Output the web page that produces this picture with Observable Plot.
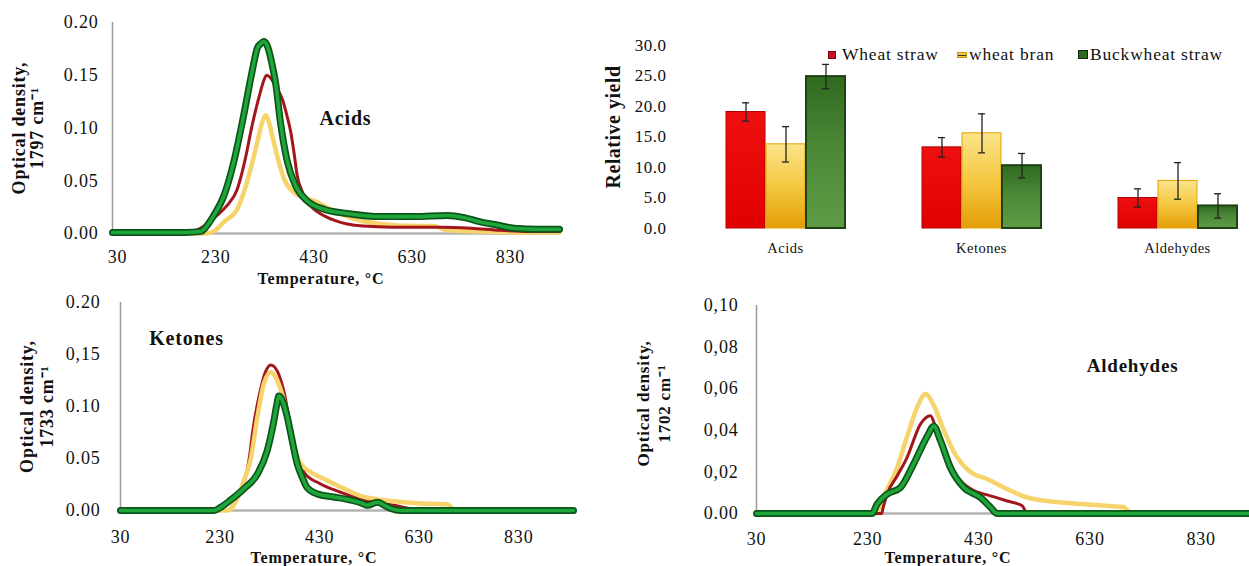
<!DOCTYPE html>
<html><head><meta charset="utf-8">
<script src="https://cdn.jsdelivr.net/npm/d3@7"></script>
<script src="https://cdn.jsdelivr.net/npm/@observablehq/plot@0.6"></script>
<style>
html,body{margin:0;padding:0;background:#fff;}
#root{position:relative;width:1249px;height:566px;overflow:hidden;font-family:"Liberation Serif","Times New Roman",serif;color:#111;}
.panel{position:absolute;}
.leg{position:absolute;font-size:17.5px;letter-spacing:0.8px;line-height:1;white-space:nowrap;top:46px;}
.sw{position:absolute;box-sizing:border-box;}
</style></head><body>
<div id="root">
  <div class="panel" id="p1" style="left:0;top:0"></div>
  <div class="panel" id="p2" style="left:590px;top:30px"></div>
  <div class="panel" id="p3" style="left:0;top:290px"></div>
  <div class="panel" id="p4" style="left:600px;top:290px"></div>
  <div id="legend"></div>
</div>
<script>
// ---------- data ----------
const temperatureTicks = [30, 230, 430, 630, 830];
const seriesNames = ["Wheat straw", "wheat bran", "Buckwheat straw"];
const groupNames = ["Acids", "Ketones", "Aldehydes"];

// relative yield (bar chart)
const yieldWheatStraw = [19.1, 13.3, 5.0];
const yieldWheatBran = [13.8, 15.6, 7.8];
const yieldBuckwheat = [24.9, 10.3, 3.7];
const errWheatStraw = [1.5, 1.6, 1.5];
const errWheatBran = [2.9, 3.2, 3.0];
const errBuckwheat = [2.0, 2.0, 2.0];
const yieldTicks = [0, 5, 10, 15, 20, 25, 30];

// Acids, 1797 cm-1  [temperature, optical density]
const acidsWheatStraw = [[30,0.001],[180,0.001],[200,0.003],[220,0.008],[240,0.016],[262,0.026],[284,0.042],[300,0.070],[314,0.102],[331,0.134],[338,0.145],[344,0.150],[351,0.148],[358,0.143],[367,0.136],[376,0.127],[385,0.112],[393,0.096],[400,0.075],[406,0.055],[416,0.040],[426,0.030],[443,0.022],[460,0.017],[485,0.012],[508,0.009],[540,0.007],[600,0.006],[700,0.006],[760,0.005],[820,0.003],[880,0.002],[940,0.002]];
const acidsWheatBran = [[30,0.000],[220,0.000],[236,0.002],[257,0.011],[284,0.023],[304,0.049],[325,0.087],[335,0.106],[342,0.112],[347,0.108],[352,0.099],[365,0.074],[379,0.052],[399,0.039],[420,0.034],[440,0.031],[474,0.023],[521,0.014],[576,0.009],[644,0.007],[684,0.007],[712,0.003],[780,0.002],[880,0.001],[940,0.001]];
const acidsBuckwheat = [[30,0.001],[100,0.001],[180,0.001],[210,0.002],[220,0.006],[236,0.017],[257,0.036],[277,0.068],[297,0.112],[314,0.153],[325,0.176],[332,0.180],[338,0.182],[343,0.180],[348,0.174],[355,0.160],[362,0.143],[372,0.105],[386,0.068],[403,0.045],[426,0.031],[460,0.023],[508,0.019],[576,0.016],[644,0.016],[712,0.017],[746,0.015],[779,0.011],[813,0.008],[847,0.005],[900,0.004],[940,0.004]];

// Ketones, 1733 cm-1
const ketonesWheatStraw = [[30,0],[245,0],[260,0.008],[275,0.022],[285,0.040],[291,0.058],[295,0.074],[308,0.109],[321,0.133],[332,0.140],[345,0.134],[358,0.115],[372,0.080],[385,0.052],[400,0.036],[430,0.026],[470,0.018],[520,0.010],[580,0.005],[620,0.001],[640,0],[940,0]];
const ketonesWheatBran = [[30,0],[245,0],[251,0.001],[265,0.012],[278,0.029],[291,0.048],[305,0.090],[318,0.122],[332,0.133],[345,0.125],[358,0.106],[372,0.074],[392,0.045],[412,0.037],[445,0.029],[479,0.021],[512,0.014],[559,0.010],[626,0.007],[687,0.006],[700,0.001],[720,0],[940,0]];
const ketonesBuckwheat = [[30,0],[200,0],[218,0],[231,0.003],[251,0.010],[278,0.021],[305,0.035],[325,0.058],[338,0.086],[344,0.102],[348,0.110],[353,0.108],[358,0.102],[365,0.090],[372,0.074],[385,0.045],[395,0.032],[405,0.022],[425,0.016],[459,0.013],[492,0.010],[515,0.007],[526,0.005],[546,0.008],[560,0.005],[573,0.002],[592,0],[940,0]];

// Aldehydes, 1702 cm-1
const aldehydesWheatStraw = [[30,0],[255,0],[258,0.003],[265,0.0093],[283,0.018],[301,0.027],[325,0.043],[343,0.047],[349,0.044],[355,0.038],[373,0.025],[397,0.0157],[421,0.011],[451,0.0085],[481,0.006],[508,0.0037],[517,0],[917,0]];
const aldehydesWheatBran = [[30,0],[245,0],[255,0.006],[262,0.010],[283,0.022],[301,0.037],[319,0.051],[334,0.0575],[349,0.052],[367,0.040],[391,0.027],[415,0.020],[445,0.0166],[481,0.0117],[517,0.0077],[553,0.006],[601,0.0048],[661,0.0037],[691,0.003],[700,0.001],[710,0],[917,0]];
const aldehydesBuckwheat = [[30,0],[238,0],[247,0.0045],[265,0.0093],[289,0.0125],[313,0.024],[337,0.037],[349,0.042],[361,0.035],[379,0.022],[403,0.0125],[433,0.0077],[451,0.003],[463,0],[917,0]];

// ---------- styling ----------
const FONT = '"Liberation Serif","Times New Roman",serif';
const RED_LINE = "#a3161b", YEL_LINE = "#f6d36b", GRN_LINE = "#1fa63a", GRN_EDGE = "#0c541a";

const rows = pairs => pairs.map(([t, v]) => ({t, v}));

function linePanel(cfg) {
  const [ws, wb, bs] = cfg.series.map(rows);
  const lineOpts = {x: "t", y: "v", curve: "monotone-x", strokeLinejoin: "round", strokeLinecap: "round"};
  const lines = {
    red: Plot.line(ws, {...lineOpts, stroke: RED_LINE, strokeWidth: 3}),
    yellow: Plot.line(wb, {...lineOpts, stroke: YEL_LINE, strokeWidth: 4.5}),
  };
  return Plot.plot({
    width: cfg.width, height: cfg.height,
    marginLeft: cfg.ml, marginRight: cfg.mr, marginTop: cfg.mt, marginBottom: cfg.mb,
    style: {fontFamily: FONT, fontSize: "18px", letterSpacing: "0.8px", color: "#111", background: "transparent", overflow: "visible"},
    x: {domain: cfg.xDomain},
    y: {domain: cfg.yDomain},
    marks: [
      Plot.ruleY([0], {stroke: "#b3b3b3", strokeWidth: 2.5}),
      Plot.ruleX([cfg.xDomain[0]], {stroke: "#9a9a9a", strokeWidth: 1.5}),
      ...cfg.order.map(k => lines[k]),
      Plot.line(bs, {...lineOpts, stroke: GRN_EDGE, strokeWidth: 7}),
      Plot.line(bs, {...lineOpts, stroke: GRN_LINE, strokeWidth: 3.6}),
      Plot.axisX(temperatureTicks, {tickSize: 0, tickPadding: cfg.padX, label: null, fontSize: 18, dx: cfg.tickDx}),
      Plot.axisY(cfg.yTicks, {tickSize: 0, tickPadding: cfg.padY, label: null, fontSize: 18,
        tickFormat: (d, i) => cfg.yLabels[i]}),
      Plot.text([cfg.title], {frameAnchor: "top-left", dx: cfg.titleDx, dy: cfg.titleDy,
        textAnchor: "middle", lineAnchor: "middle", fontWeight: "bold", fontSize: cfg.titleSize}),
      Plot.text([cfg.yTitle], {frameAnchor: "left", rotate: -90, dx: cfg.yTitleDx, dy: cfg.yTitleDy,
        textAnchor: "middle", lineAnchor: "middle", fontWeight: "bold", fontSize: cfg.yTitleSize, lineHeight: cfg.yTitleLH}),
      Plot.text(["Temperature, °C"], {frameAnchor: "bottom", dx: cfg.tempDx, dy: cfg.tempDy,
        textAnchor: "middle", lineAnchor: "middle", fontWeight: "bold", fontSize: 16})
    ]
  });
}

document.getElementById("p1").append(linePanel({
  series: [acidsWheatStraw, acidsWheatBran, acidsBuckwheat], order: ["yellow", "red"],
  width: 560, height: 290, ml: 112, mr: 1, mt: 22, mb: 57,
  xDomain: [30, 940], yDomain: [0, 0.2],
  yTicks: [0, 0.05, 0.1, 0.15, 0.2], yLabels: ["0.00", "0.05", "0.10", "0.15", "0.20"],
  padX: 17, padY: 14, tickDx: 5,
  title: "Acids", titleDx: 233, titleDy: 96, titleSize: 20,
  yTitle: "Optical density,\n1797 cm⁻¹", yTitleDx: -84, yTitleDy: 0, yTitleSize: 18, yTitleLH: 1.0,
  tempDx: -15, tempDy: 45
}));

document.getElementById("p3").append(linePanel({
  series: [ketonesWheatStraw, ketonesWheatBran, ketonesBuckwheat], order: ["red", "yellow"],
  width: 600, height: 276, ml: 120, mr: 27, mt: 12, mb: 56,
  xDomain: [30, 940], yDomain: [0, 0.2],
  yTicks: [0, 0.05, 0.1, 0.15, 0.2], yLabels: ["0.00", "0.05", "0.10", "0,15", "0.20"],
  padX: 20, padY: 20, tickDx: 0,
  title: "Ketones", titleDx: 66, titleDy: 36, titleSize: 20,
  yTitle: "Optical density,\n1733 cm⁻¹", yTitleDx: -84, yTitleDy: 0, yTitleSize: 18, yTitleLH: 1.15,
  tempDx: -33, tempDy: 47
}));

document.getElementById("p4").append(linePanel({
  series: [aldehydesWheatStraw, aldehydesWheatBran, aldehydesBuckwheat], order: ["yellow", "red"],
  width: 649, height: 276, ml: 156, mr: 0, mt: 15, mb: 53,
  xDomain: [30, 917], yDomain: [0, 0.1],
  yTicks: [0, 0.02, 0.04, 0.06, 0.08, 0.1], yLabels: ["0.00", "0,02", "0,04", "0,06", "0,08", "0,10"],
  padX: 19, padY: 18, tickDx: 0,
  title: "Aldehydes", titleDx: 376, titleDy: 60, titleSize: 19,
  yTitle: "Optical density,\n1702 cm⁻¹", yTitleDx: -104, yTitleDy: -6, yTitleSize: 17, yTitleLH: 1.25,
  tempDx: -55, tempDy: 44
}));

// ---------- bar chart ----------
const yields = [yieldWheatStraw, yieldWheatBran, yieldBuckwheat];
const errs = [errWheatStraw, errWheatBran, errBuckwheat];
const barRows = groupNames.flatMap((g, i) => seriesNames.map((s, j) => ({
  group: g, series: s, value: yields[j][i], lo: yields[j][i] - errs[j][i], hi: yields[j][i] + errs[j][i]
})));
const barFills = ["url(#gRed)", "url(#gYel)", "url(#gGrn)"];
const barStrokes = ["#b00000", "#e0a400", "#1c4410"];

const bar = Plot.plot({
  width: 659, height: 240, marginLeft: 132, marginRight: 8, marginTop: 15, marginBottom: 42,
  style: {fontFamily: FONT, fontSize: "17px", letterSpacing: "0.5px", color: "#111", background: "transparent", overflow: "visible"},
  fx: {domain: groupNames, paddingInner: 0.365, paddingOuter: 0},
  x: {domain: seriesNames, padding: 0.03, axis: null},
  y: {domain: [0, 30]},
  marks: [
    ...seriesNames.map((s, j) => Plot.barY(barRows, {filter: d => d.series === s,
      fx: "group", x: "series", y: "value", fill: barFills[j], stroke: barStrokes[j], strokeWidth: j === 2 ? 2 : 1})),
    Plot.ruleX(barRows, {fx: "group", x: "series", y1: "lo", y2: "hi", stroke: "#222", strokeWidth: 1.3}),
    Plot.tickY(barRows, {fx: "group", x: "series", y: "lo", stroke: "#222", strokeWidth: 1.3, insetLeft: 16, insetRight: 16}),
    Plot.tickY(barRows, {fx: "group", x: "series", y: "hi", stroke: "#222", strokeWidth: 1.3, insetLeft: 16, insetRight: 16}),
    Plot.axisY(yieldTicks, {tickSize: 0, tickPadding: 57, label: null, fontSize: 17, tickFormat: d3.format(".1f")}),
    Plot.axisFx({tickSize: 0, tickPadding: 14, label: null, fontSize: 14.5, anchor: "bottom"}),
    Plot.text(["Relative yield"], {frameAnchor: "left", facet: "super", rotate: -90, dx: -110, dy: -10,
      textAnchor: "middle", lineAnchor: "middle", fontWeight: "bold", fontSize: 20})
  ]
});
const svgBar = bar.tagName.toLowerCase() === "svg" ? bar : bar.querySelector("svg");
const defs = d3.select(svgBar).insert("defs", ":first-child");
function grad(id, stops) {
  const g = defs.append("linearGradient").attr("id", id).attr("x1", 0).attr("y1", 0).attr("x2", 0).attr("y2", 1);
  stops.forEach(([o, c]) => g.append("stop").attr("offset", o).attr("stop-color", c));
}
grad("gRed", [[0, "#ee1010"], [1, "#e00000"]]);
grad("gYel", [[0, "#fbe48a"], [0.5, "#f5c842"], [1, "#e39e08"]]);
grad("gGrn", [[0, "#2f6a20"], [0.5, "#4d8a38"], [1, "#5f9c46"]]);
document.getElementById("p2").append(bar);

// ---------- legend ----------
const legendItems = [
  {name: seriesNames[0], sw: {left: 828, top: 51, w: 8, h: 8, bg: "#c4102a", border: "1px solid #7a0010"}, textLeft: 842},
  {name: seriesNames[1], sw: {left: 957, top: 52, w: 10, h: 6, bg: "#f2c640", border: "1px solid #c99a10"}, textLeft: 969},
  {name: seriesNames[2], sw: {left: 1078, top: 50, w: 10, h: 9, bg: "#2f6a20", border: "1.5px solid #0d2a06"}, textLeft: 1090}
];
const leg = document.getElementById("legend");
legendItems.forEach((it, i) => {
  const sw = document.createElement("div");
  sw.className = "sw";
  Object.assign(sw.style, {left: it.sw.left + "px", top: it.sw.top + "px", width: it.sw.w + "px", height: it.sw.h + "px", background: it.sw.bg, border: it.sw.border});
  if (i === 1) {
    const ln = document.createElement("div");
    Object.assign(ln.style, {position: "absolute", left: "0", right: "0", top: "1.5px", height: "1.2px", background: "#333"});
    sw.append(ln);
  }
  leg.append(sw);
  const t = document.createElement("div");
  t.className = "leg";
  t.style.left = it.textLeft + "px";
  t.textContent = it.name;
  leg.append(t);
});
</script>
</body></html>
